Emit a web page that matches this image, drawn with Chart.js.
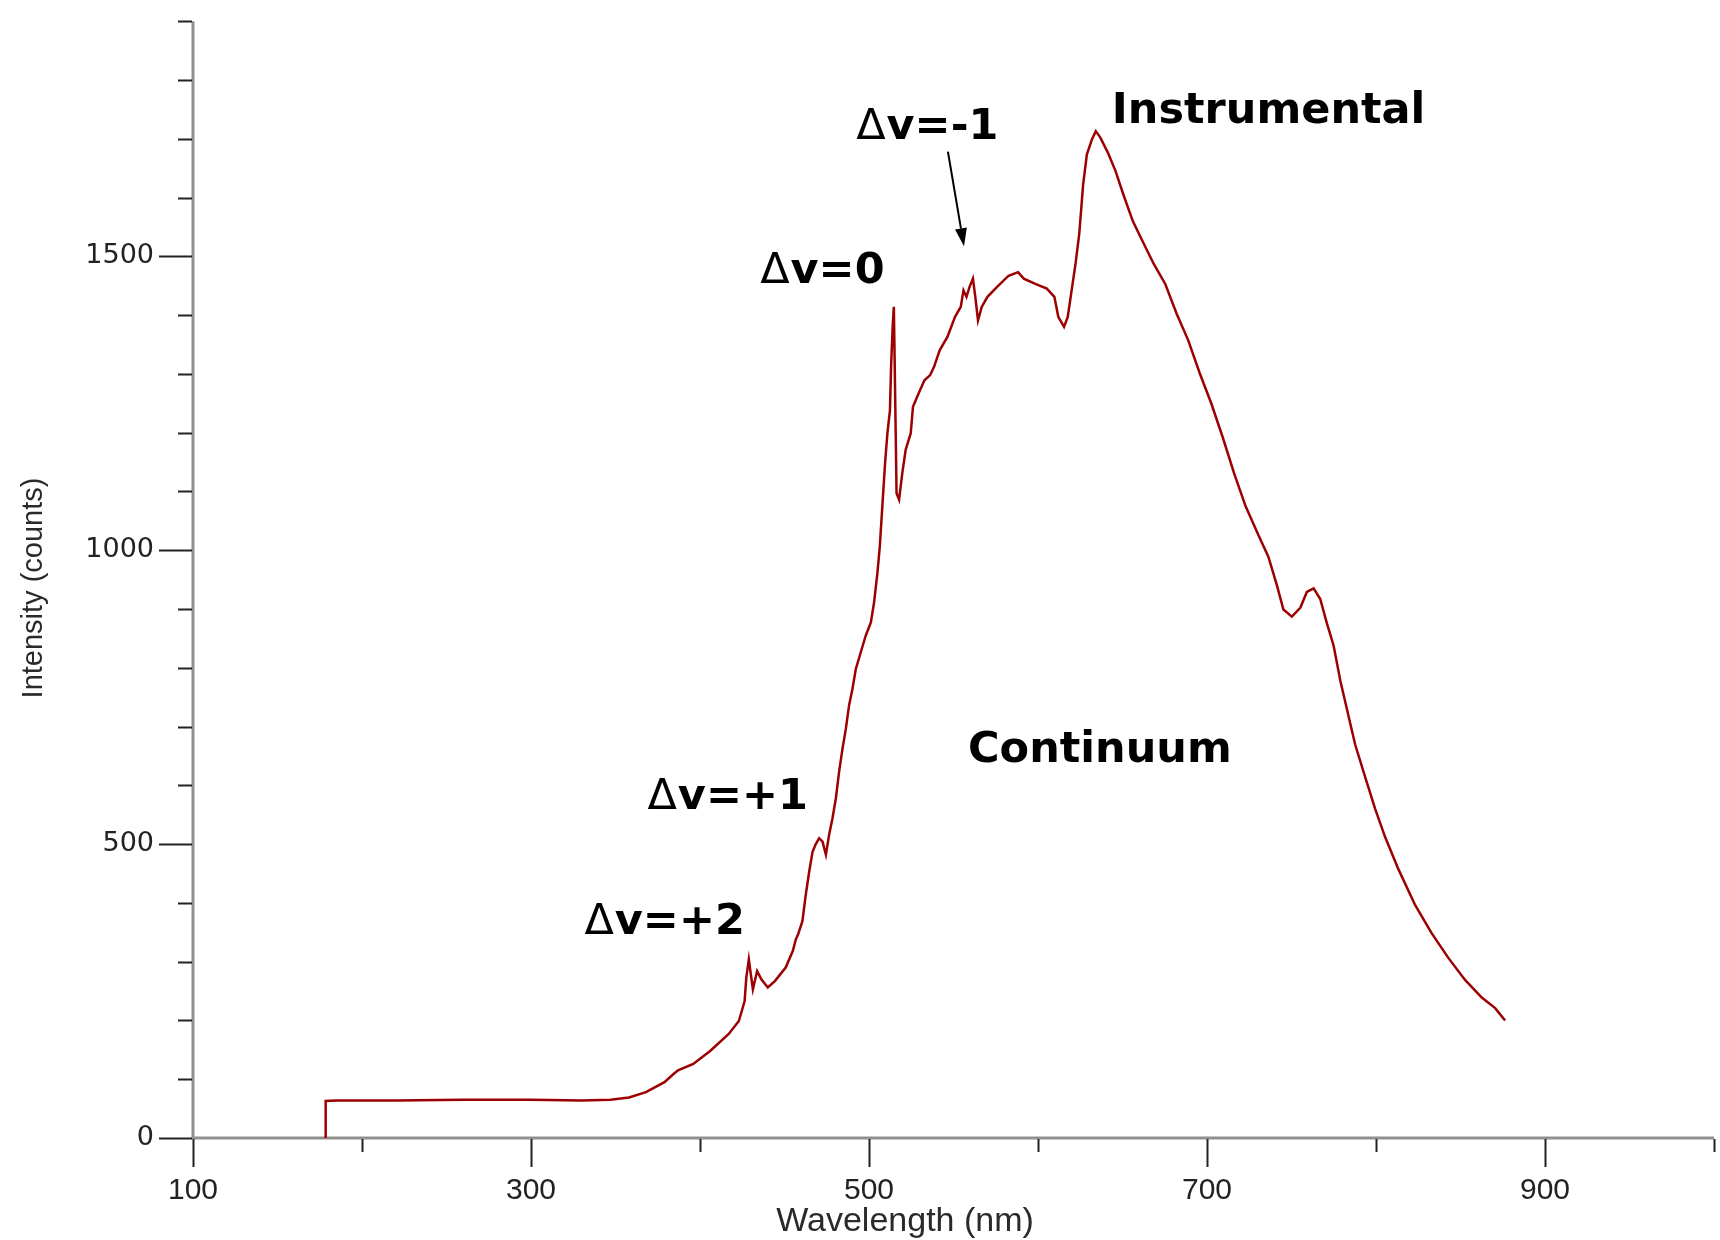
<!DOCTYPE html>
<html>
  <head>
    <meta charset="UTF-8">
    <title>Emission spectrum</title>
    <script src="https://cdn.jsdelivr.net/npm/chart.js@4.4.0/dist/chart.umd.min.js"></script>
    <style>
      body { margin: 0; background: #fff; }
    </style>
  </head>
  <body>
    <canvas id='spectrumChart' width='1720' height='1240'></canvas>

    <script>
      // Spectrum: wavelength (nm) and intensity (counts)
      const wavelength = [
        178.4, 178.5, 185, 220, 260, 300, 330, 347, 358, 368, 379, 384, 387, 396, 406, 417, 423,
        426.4, 427.4, 428.9, 430, 431.3, 433.8, 436.3, 440.1, 444.3, 450.7, 454.9, 456.7, 458,
        460.6, 462.6, 464.6, 466.6, 468.5, 470.5, 472.5, 474.5, 476.4, 478.4, 480.4, 482.3,
        484.3, 486.3, 488.2, 490.2, 492.2, 495.1, 498.1, 501.1, 503, 505, 506.4, 507.9, 509.5,
        510.9, 512.4, 513.1, 514, 514.7, 515.2, 515.8, 516.3, 517.8, 519.7, 521.7, 524.7, 526,
        529.4, 532.8, 536.2, 538.5, 541.8, 546.4, 550.9, 554.3, 555.9, 557.7, 559.5, 561.5,
        562.9, 564.5, 566.7, 570.1, 575.8, 582.6, 588.2, 591.6, 598.4, 605.2, 609.7, 612,
        615.4, 617.6, 619.9, 622.2, 624.4, 626.7, 628.9, 631.9, 634.2, 636.9, 641.4, 645.9,
        650.4, 656.1, 661.8, 668.5, 675.3, 682.1, 688.9, 695.7, 702.5, 709.2, 716, 722.8,
        730.4, 736.3, 741.3, 745.2, 750.2, 755.2, 759.1, 763.1, 767, 771, 774.9, 778.9, 783.8,
        787.7, 793.6, 799.5, 805.4, 813.3, 823.2, 833, 842.9, 852.7, 862.6, 870.5, 876.4
      ];
      const intensity = [
        0, 63, 64, 64, 65, 65, 64, 65, 69, 78, 95, 108, 115, 126, 148, 177, 199,
        233, 273, 304, 280, 253, 284, 270, 256, 267, 290, 318, 338, 346,
        369, 414, 453, 487, 500, 510, 504, 482, 516, 544, 578, 623,
        662, 696, 736, 764, 798, 826, 855, 877, 911, 962, 1007, 1075, 1148,
        1199, 1238, 1315, 1380, 1414, 1318, 1200, 1097, 1086, 1131, 1171, 1199, 1244,
        1267, 1289, 1298, 1312, 1340, 1363, 1397, 1414, 1442, 1431, 1448, 1462,
        1431, 1391, 1414, 1431, 1448, 1467, 1473, 1462, 1453, 1445, 1431, 1397,
        1380, 1397, 1442, 1487, 1538, 1622, 1673, 1699, 1713, 1702, 1676, 1645,
        1606, 1560, 1526, 1487, 1453, 1402, 1357, 1301, 1250, 1193, 1131, 1075,
        1026, 989, 941, 899, 887, 902, 929, 935, 917, 875, 838, 778, 717,
        669, 614, 560, 512, 457, 396, 348, 306, 269, 239, 221, 200
      ];

      const xLabelTicks = [100, 300, 500, 700, 900];
      const yLabelTicks = [0, 500, 1000, 1500];

      // Text notes on the plot, anchored in data units (left edge, baseline)
      const noteTexts = ['Instrumental', '\u0394v=-1', '\u0394v=0', 'Continuum', '\u0394v=+1', '\u0394v=+2'];
      const noteX = [643.7, 492.4, 435.6, 558.6, 368.9, 331.6];
      const noteY = [1727, 1699, 1455, 640, 560, 347];
      // Arrow from the "Δv=-1" note down to the band
      const arrowFrom = [546.7, 1678];
      const arrowTo = [556.2, 1517];

      const ctx = document.getElementById('spectrumChart').getContext('2d');

      const BOLD_FONT = 'bold 43px "DejaVu Sans", Verdana, sans-serif';
      const DELTA_FONT = '43px "DejaVu Sans", Verdana, sans-serif';

      const decorations = {
        id: 'decorations',
        beforeDatasetsDraw(chart) {
          const {ctx, chartArea: a, scales: {x, y}} = chart;
          ctx.save();
          // axis lines
          ctx.strokeStyle = '#8f8f8f';
          ctx.lineWidth = 3;
          ctx.beginPath();
          ctx.moveTo(a.left, y.getPixelForValue(y.max));
          ctx.lineTo(a.left, a.bottom);
          ctx.lineTo(x.getPixelForValue(x.max), a.bottom);
          ctx.stroke();
          // tick marks, long ones where a label sits
          ctx.strokeStyle = '#222';
          ctx.lineWidth = 2;
          ctx.beginPath();
          for (const t of y.ticks) {
            const py = Math.round(y.getPixelForValue(t.value)) + 0.5;
            const len = yLabelTicks.includes(t.value) ? 34 : 15;
            ctx.moveTo(a.left - len, py);
            ctx.lineTo(a.left - 1, py);
          }
          for (const t of x.ticks) {
            const px = Math.round(x.getPixelForValue(t.value)) + 0.5;
            const len = xLabelTicks.includes(t.value) ? 29 : 14;
            ctx.moveTo(px, a.bottom + 1);
            ctx.lineTo(px, a.bottom + len);
          }
          ctx.stroke();
          ctx.restore();
        },
        afterDatasetsDraw(chart) {
          const {ctx, scales: {x, y}} = chart;
          ctx.save();
          // axis titles
          ctx.fillStyle = '#2a2a2a';
          ctx.textAlign = 'center';
          ctx.textBaseline = 'middle';
          ctx.font = '29px "Liberation Sans", Arial, sans-serif';
          ctx.translate(34, 588);
          ctx.rotate(-Math.PI / 2);
          ctx.fillText('Intensity (counts)', 0, 0);
          ctx.setTransform(1, 0, 0, 1, 0, 0);
          ctx.font = '34px "Liberation Sans", Arial, sans-serif';
          ctx.textBaseline = 'alphabetic';
          ctx.fillText('Wavelength (nm)', 905, 1231);

          // notes; the delta sign is drawn in the plain face so it stays hollow
          ctx.fillStyle = '#000';
          ctx.textAlign = 'left';
          noteTexts.forEach((txt, i) => {
            let px = x.getPixelForValue(noteX[i]);
            const py = y.getPixelForValue(noteY[i]);
            let rest = txt;
            if (txt.startsWith('\u0394')) {
              ctx.font = DELTA_FONT;
              ctx.fillText('\u0394', px, py);
              px += ctx.measureText('\u0394').width + 1;
              rest = txt.slice(1);
            }
            ctx.font = BOLD_FONT;
            ctx.fillText(rest, px, py);
          });

          // arrow
          const x0 = x.getPixelForValue(arrowFrom[0]), y0 = y.getPixelForValue(arrowFrom[1]);
          const x1 = x.getPixelForValue(arrowTo[0]), y1 = y.getPixelForValue(arrowTo[1]);
          const ang = Math.atan2(y1 - y0, x1 - x0);
          const head = 18, half = 6;
          ctx.strokeStyle = '#000';
          ctx.lineWidth = 2;
          ctx.beginPath();
          ctx.moveTo(x0, y0);
          ctx.lineTo(x1 - head * Math.cos(ang), y1 - head * Math.sin(ang));
          ctx.stroke();
          ctx.beginPath();
          ctx.moveTo(x1, y1);
          ctx.lineTo(x1 - head * Math.cos(ang) + half * Math.sin(ang), y1 - head * Math.sin(ang) - half * Math.cos(ang));
          ctx.lineTo(x1 - head * Math.cos(ang) - half * Math.sin(ang), y1 - head * Math.sin(ang) + half * Math.cos(ang));
          ctx.closePath();
          ctx.fill();
          ctx.restore();
        }
      };

      new Chart(ctx, {
        type: 'scatter',
        data: {
          datasets: [{
            label: 'Spectrum',
            data: wavelength.map((w, i) => ({x: w, y: intensity[i]})),
            showLine: true,
            borderColor: '#9c0000',
            borderWidth: 2.5,
            pointRadius: 0,
            tension: 0
          }]
        },
        options: {
          responsive: false,
          animation: false,
          layout: { padding: { top: 15, right: 3, left: 0, bottom: 0 } },
          plugins: { legend: { display: false }, tooltip: { enabled: false } },
          scales: {
            x: {
              type: 'linear',
              min: 100,
              max: 1000,
              border: { display: false },
              grid: { display: false, drawTicks: true, tickLength: 29 },
              ticks: {
                stepSize: 100,
                padding: 6,
                color: '#222',
                font: { family: '"Liberation Sans", Arial, sans-serif', size: 30 },
                maxRotation: 0,
                autoSkip: false,
                callback: (v) => xLabelTicks.includes(v) ? String(v) : ''
              },
              afterFit: (s) => { s.height = 102; }
            },
            y: {
              min: 0,
              max: 1900,
              border: { display: false },
              grid: { display: false, drawTicks: true, tickLength: 34 },
              ticks: {
                stepSize: 100,
                padding: 5,
                color: '#222',
                font: { family: '"DejaVu Sans", Verdana, sans-serif', size: 27 },
                autoSkip: false,
                callback: (v) => yLabelTicks.includes(v) ? String(v) : ''
              },
              afterFit: (s) => { s.width = 193; }
            }
          }
        },
        plugins: [decorations]
      });
    </script>
  </body>
</html>
